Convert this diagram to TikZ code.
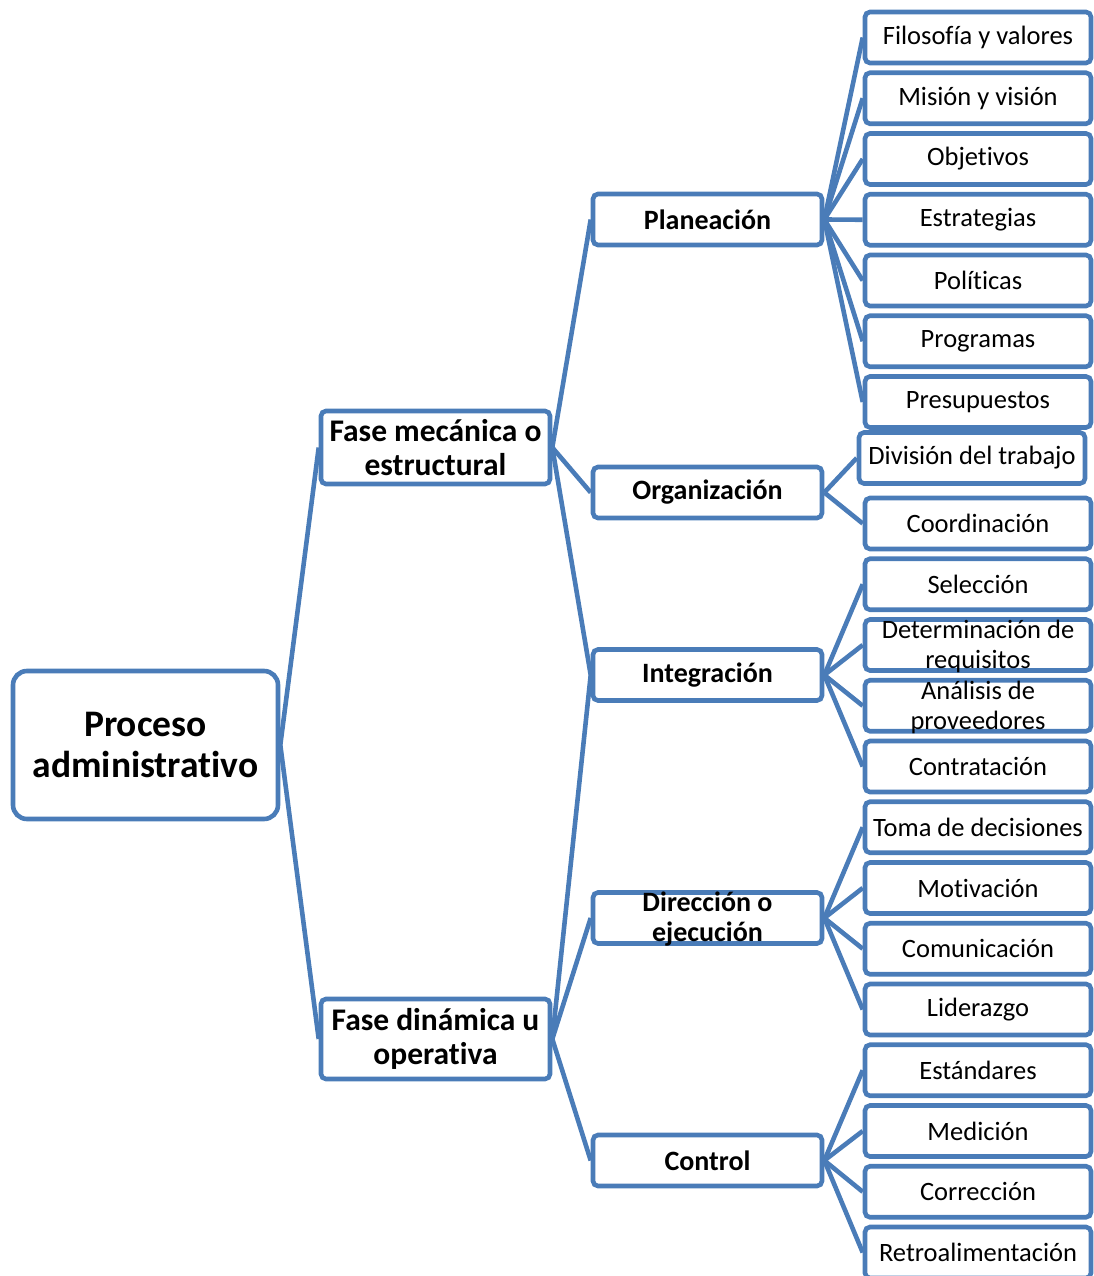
\documentclass[tikz,border=0pt]{standalone}
\usepackage{fontspec}
\setmainfont[Ligatures=NoCommon]{Carlito}
\definecolor{linkblue}{RGB}{74,124,184}
\pgfdeclarelayer{links}
\pgfsetlayers{links,main}
% two lines of text that may spill out of a fixed-height box
\newcommand{\spill}[2]{\smash{\raisebox{-9pt}{\begin{tabular}{@{}c@{}}#1\\#2\end{tabular}}}}
\begin{document}
\begin{tikzpicture}[x=1pt,y=-1pt,
  box/.style={draw=linkblue, line width=4.6pt, rounded corners=5pt, fill=white,
    inner sep=0pt, align=center, text=black},
  leaf/.style={box, minimum width=226pt, minimum height=51pt,
    font=\fontsize{26.5}{30}\selectfont},
  mid/.style={box, minimum width=229pt, minimum height=51pt,
    font=\bfseries\fontsize{28}{30}\selectfont},
  phase/.style={box, minimum width=229pt, font=\bfseries\fontsize{31.5}{34}\selectfont},
  root/.style={box, minimum width=265pt, minimum height=148pt, rounded corners=14pt,
    font=\bfseries\fontsize{37.5}{41}\selectfont},
  link/.style={draw=linkblue, line width=4.6pt}
]
\useasboundingbox (0,0) rectangle (1093,1276);

% root and phases
\node[root] (root) at (145.5,745) {Proceso\\administrativo};
\node[phase, minimum height=73pt] (mec) at (435.5,447.5) {Fase mecánica o\\estructural};
\node[phase, minimum height=80pt] (din) at (435.5,1039) {Fase dinámica u\\operativa};

% stages
\node[mid] (plan) at (707.5,219.5) {Planeación};
\node[mid] (org)  at (707.5,492.5) {Organización};
\node[mid] (int)  at (707.5,675) {Integración};
\node[mid] (dir)  at (707.5,918) {\spill{Dirección o}{ejecución}};
\node[mid] (ctl)  at (707.5,1160.5) {Control};

% planning items
\node[leaf] (p1) at (978,37.5)   {Filosofía y valores};
\node[leaf] (p2) at (978,98.25)  {Misión y visión};
\node[leaf] (p3) at (978,159)    {Objetivos};
\node[leaf] (p4) at (978,219.75) {Estrategias};
\node[leaf] (p5) at (978,280.5)  {Políticas};
\node[leaf] (p6) at (978,341.25) {Programas};
\node[leaf] (p7) at (978,402)    {Presupuestos};

% organization items
\node[leaf] (o1) at (972,458)    {División del trabajo};
\node[leaf] (o2) at (978,523.5)  {Coordinación};

% integration items
\node[leaf] (i1) at (978,584.25) {Selección};
\node[leaf] (i2) at (978,645)    {\spill{Determinación de}{requisitos}};
\node[leaf] (i3) at (978,705.75) {\spill{Análisis de}{proveedores}};
\node[leaf] (i4) at (978,766.5)  {Contratación};

% direction items
\node[leaf] (d1) at (978,827.25) {Toma de decisiones};
\node[leaf] (d2) at (978,888)    {Motivación};
\node[leaf] (d3) at (978,948.75) {Comunicación};
\node[leaf] (d4) at (978,1009.5) {Liderazgo};

% control items
\node[leaf] (c1) at (978,1070.25) {Estándares};
\node[leaf] (c2) at (978,1131)    {Medición};
\node[leaf] (c3) at (978,1191.75) {Corrección};
\node[leaf] (c4) at (978,1252.5)  {Retroalimentación};

% connectors, drawn beneath the boxes
\begin{pgfonlayer}{links}
\draw[link] (root.east) -- (mec.west);
\draw[link] (root.east) -- (din.west);
\foreach \t in {plan,org,int} \draw[link] (mec.east) -- (\t.west);
\foreach \t in {int,dir,ctl} \draw[link] (din.east) -- (\t.west);
\foreach \t in {p1,p2,p3,p4,p5,p6,p7} \draw[link] (plan.east) -- (\t.west);
\foreach \t in {o1,o2} \draw[link] (org.east) -- (\t.west);
\foreach \t in {i1,i2,i3,i4} \draw[link] (int.east) -- (\t.west);
\foreach \t in {d1,d2,d3,d4} \draw[link] (dir.east) -- (\t.west);
\foreach \t in {c1,c2,c3,c4} \draw[link] (ctl.east) -- (\t.west);
\end{pgfonlayer}
\end{tikzpicture}
\end{document}
